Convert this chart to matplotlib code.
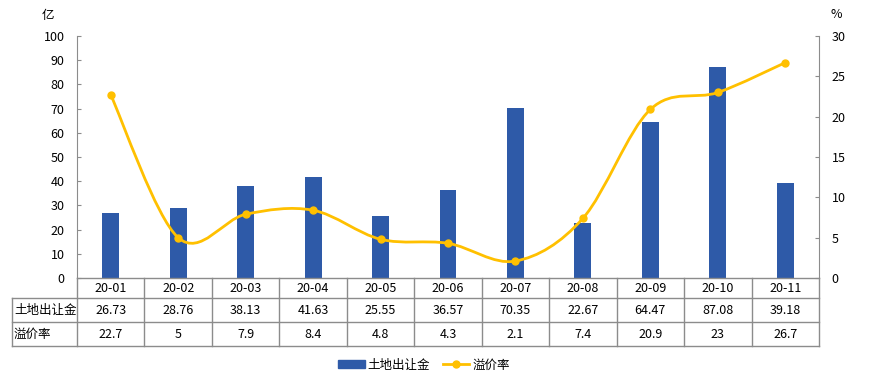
import numpy as np
import matplotlib.pyplot as plt
from matplotlib.path import Path
from matplotlib.patches import PathPatch
from matplotlib.lines import Line2D
from matplotlib.patches import Patch

plt.rcParams['font.family'] = ['Noto Sans CJK SC', 'DejaVu Sans']

months = ['20-01', '20-02', '20-03', '20-04', '20-05', '20-06',
          '20-07', '20-08', '20-09', '20-10', '20-11']
land_sales = [26.73, 28.76, 38.13, 41.63, 25.55, 36.57, 70.35, 22.67, 64.47, 87.08, 39.18]
premium = [22.7, 5, 7.9, 8.4, 4.8, 4.3, 2.1, 7.4, 20.9, 23, 26.7]
sales_label = '土地出让金'
premium_label = '溢价率'

bar_color = '#2E5AA8'
line_color = '#FFC000'
grid_gray = '#8C8C8C'
fs = 9

W, H = 870, 380
fig = plt.figure(figsize=(W / 100, H / 100), dpi=100)
left, right, top, bottom = 77, 819, 36, 278
ax = fig.add_axes([left / W, 1 - bottom / H, (right - left) / W, (bottom - top) / H])
ax2 = ax.twinx()

x = np.arange(len(months))
ax.bar(x, land_sales, width=0.25, color=bar_color, zorder=2)
ax.set_xlim(-0.5, len(months) - 0.5)
ax.set_ylim(0, 100)
ax.set_yticks(range(0, 101, 10))
ax.set_xticks([])

ax2.set_ylim(0, 30)
ax2.set_yticks(range(0, 31, 5))

# smoothed line (Excel-style bezier through the data points)
pts = np.column_stack([x, premium]).astype(float)
verts = [pts[0]]
codes = [Path.MOVETO]
n = len(pts)
for i in range(n - 1):
    p0 = pts[max(i - 1, 0)]
    p1 = pts[i]
    p2 = pts[i + 1]
    p3 = pts[min(i + 2, n - 1)]
    c1 = p1 + (p2 - p0) / 6.0
    c2 = p2 - (p3 - p1) / 6.0
    verts += [c1, c2, p2]
    codes += [Path.CURVE4] * 3
ax2.add_patch(PathPatch(Path(verts, codes), facecolor='none', edgecolor=line_color,
                        lw=2.0, zorder=3, capstyle='round'))
ax2.plot(x, premium, 'o', color=line_color, ms=5, zorder=4)

for a in (ax, ax2):
    for s in ('top', 'bottom'):
        a.spines[s].set_visible(False)
    a.spines['left'].set_color(grid_gray)
    a.spines['right'].set_color(grid_gray)
    a.tick_params(axis='y', direction='in', length=3, color=grid_gray,
                  labelsize=fs, labelcolor='#000000', pad=9)
ax.spines['right'].set_visible(False)
ax2.spines['left'].set_visible(False)

fig.text(48 / W, 1 - 15 / H, '亿', fontsize=fs, ha='center', va='center')
fig.text(836 / W, 1 - 15 / H, '%', fontsize=fs, ha='center', va='center')

# data table
tab_left = 12
row_y = [278, 298, 322, 346]
col_w = (right - left) / len(months)


def fx(px):
    return px / W


def fy(py):
    return 1 - py / H


for yy in row_y:
    x0 = left if yy == row_y[0] else tab_left
    fig.add_artist(Line2D([fx(x0), fx(right)], [fy(yy), fy(yy)], color=grid_gray, lw=1))
fig.add_artist(Line2D([fx(tab_left), fx(tab_left)], [fy(row_y[1]), fy(row_y[3])],
                      color=grid_gray, lw=1))
for j in range(len(months) + 1):
    xx = left + j * col_w
    fig.add_artist(Line2D([fx(xx), fx(xx)], [fy(row_y[0]), fy(row_y[3])],
                          color=grid_gray, lw=1))

rows = [months,
        ['%g' % v for v in land_sales],
        ['%g' % v for v in premium]]
for r, vals in enumerate(rows):
    yc = (row_y[r] + row_y[r + 1]) / 2
    for j, v in enumerate(vals):
        fig.text(fx(left + (j + 0.5) * col_w), fy(yc), v, fontsize=fs,
                 ha='center', va='center')
fig.text(fx(tab_left + 2), fy((row_y[1] + row_y[2]) / 2), sales_label, fontsize=fs,
         ha='left', va='center')
fig.text(fx(tab_left + 2), fy((row_y[2] + row_y[3]) / 2), premium_label, fontsize=fs,
         ha='left', va='center')

handles = [Patch(color=bar_color, label=sales_label),
           Line2D([], [], color=line_color, lw=2, marker='o', ms=5, label=premium_label)]
fig.legend(handles=handles, loc='center', bbox_to_anchor=(fx(424), fy(365)), ncol=2,
           frameon=False, fontsize=fs, handlelength=2.1, handleheight=0.6,
           columnspacing=1.0, handletextpad=0.25)

fig.savefig('out.png', dpi=100)
